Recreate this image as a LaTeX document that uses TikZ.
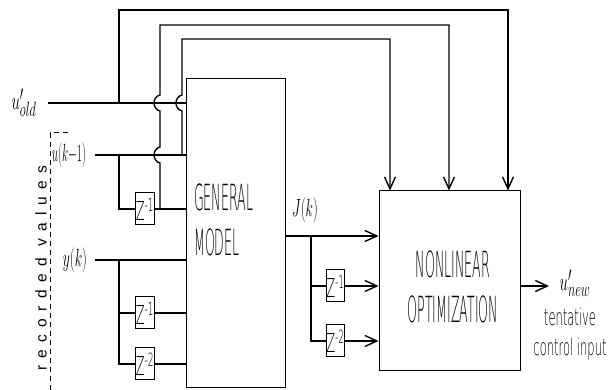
\documentclass[tikz,border=0pt]{standalone}
\usepackage{fontspec}
\usepackage{graphicx}
\usetikzlibrary{arrows.meta,positioning,calc}
\newfontfamily\blkfont[FakeStretch=0.35]{DejaVu Sans ExtraLight}
\newfontfamily\lblfont[FakeStretch=0.5]{DejaVu Sans ExtraLight}
\newfontfamily\recfont[LetterSpace=47]{Liberation Sans}
\newcommand{\narrow}[2][0.45]{\scalebox{#1}[1]{#2}}
\tikzset{
  block/.style   = {draw, line width=1pt, rectangle, inner sep=0pt},
  blktext/.style = {inner sep=0pt, font=\blkfont\fontsize{36}{45}\selectfont},
  zbox/.style    = {draw, line width=1pt, rectangle, inner sep=0pt, minimum width=18pt,
                    minimum height=32pt, font=\lblfont\fontsize{26}{26}\selectfont},
  wire/.style    = {line width=1.4pt},
  sig/.style     = {-{Straight Barb[length=12pt,width=11pt]}, line width=1.4pt},
  lbl/.style     = {inner sep=0pt, font=\fontsize{30}{30}\selectfont},
  note/.style    = {inner sep=0pt, align=center, font=\lblfont\fontsize{23}{30}\selectfont},
}
\begin{document}
\begin{tikzpicture}[x=1pt, y=-1pt]
\useasboundingbox (0,0) rectangle (614,390);
% ---------- blocks ----------
\node[block, minimum width=99pt, minimum height=309pt] (gm) at (235.5,233.5) {};
\node[blktext, anchor=west, align=left] (gmtext) at (194,220) {GENERAL\\MODEL};
\node[block, minimum width=141pt, minimum height=180pt] (nl) at (449.5,281) {};
\node[blktext, align=center] (nltext) at (453,287) {NONLINEAR\\OPTIMIZATION};
% ---------- delays ----------
\node[zbox] (zu1) at (145,209) {Z\textsuperscript{-1}};
\node[zbox] (zy1) at (145,313) {Z\textsuperscript{-1}};
\node[zbox] (zy2) at (145,364) {Z\textsuperscript{-2}};
\node[zbox] (zj1) at (335.5,286) {Z\textsuperscript{-1}};
\node[zbox] (zj2) at (335.5,341) {Z\textsuperscript{-2}};
% ---------- inputs ----------
\coordinate (uold) at (48,103);
\coordinate (ukm) at (95,155);
\coordinate (yk) at (95,260);
\node[lbl] (uoldlbl) at (24,103) {\narrow[0.6]{$u'_{old}$}};
\node[lbl] (ukmlbl) at (69,155) {\narrow{$u(k{-}1)$}};
\node[lbl] (yklbl) at (75,260) {\narrow[0.55]{$y(k)$}};
\coordinate (bo) at (119,103);
\coordinate (bu) at (119,155);
\coordinate (by) at (119,260);
\draw[wire] (uold) -- (uold -| gm.west);
\draw[wire] (ukm) -- (ukm -| gm.west);
\draw[wire] (yk) -- (yk -| gm.west);
\draw[wire] (bu) |- (zu1.west);
\draw[wire] (zu1.east) -- (zu1.east -| gm.west);
\draw[wire] (by) |- (zy1.west);
\draw[wire] (by) |- (zy2.west);
\draw[wire] (zy1.east) -- (zy1.east -| gm.west);
\draw[wire] (zy2.east) -- (zy2.east -| gm.west);
% recorded values
\coordinate (rv1) at (68,133);
\coordinate (rv2) at (50,133);
\coordinate (rv3) at (50,392);
\draw[line width=1pt, dash pattern=on 5pt off 4pt] (rv1) -- (rv2) -- (rv3);
\node[rotate=90, inner sep=0pt, font=\recfont\fontsize{15.5}{16}\selectfont] (rec)
      at (41,268) {recorded values};
% ---------- feedback to optimizer ----------
\coordinate (t1) at (508,10);
\coordinate (t2) at (449,25);
\coordinate (t3) at (390,39);
\coordinate (k2) at (160,209);
\coordinate (k3) at (182,155);
\draw[sig] (bo) |- (t1) -- (t1 |- nl.north);
\draw[sig] (k2) -- (160,163) .. controls (152,161) and (152,149) .. (160,147)
  -- (160,111) .. controls (152,109) and (152,97) .. (160,95) |- (t2) -- (t2 |- nl.north);
\draw[sig] (k3) -- (182,111) .. controls (174,109) and (174,97) .. (182,95)
  |- (t3) -- (t3 |- nl.north);
% ---------- cost ----------
\coordinate (bj) at (311,236);
\node[lbl] (jlbl) at (305,210) {\narrow[0.55]{$J(k)$}};
\draw[sig] (bj -| gm.east) -- (bj -| nl.west);
\draw[wire] (bj) |- (zj1.west);
\draw[wire] (bj) |- (zj2.west);
\draw[sig] (zj1.east) -- (zj1.east -| nl.west);
\draw[sig] (zj2.east) -- (zj2.east -| nl.west);
% ---------- output ----------
\coordinate (unew) at (549,286);
\draw[sig] (nl.east |- unew) -- (unew);
\node[lbl] (unewlbl) at (575,283) {\narrow[0.6]{$u'_{new}$}};
\node[note] (tci) at (570,334) {tentative\\control input};
\end{tikzpicture}
\end{document}
